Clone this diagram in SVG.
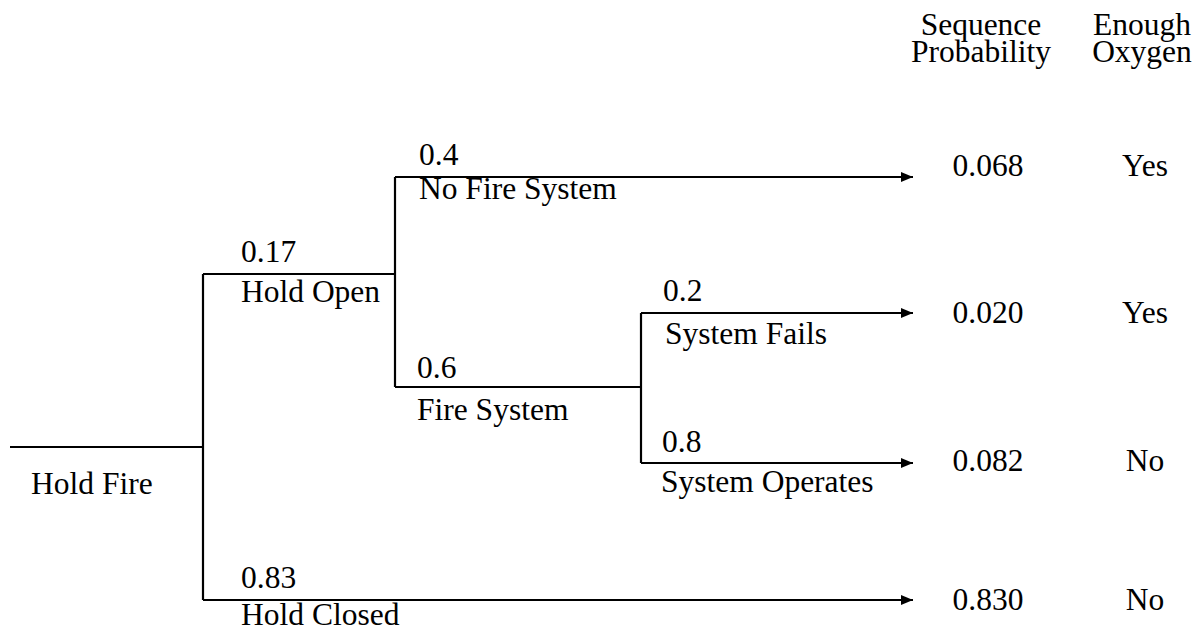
<svg xmlns="http://www.w3.org/2000/svg" width="1198" height="632" viewBox="0 0 1198 632">
<defs>
<style>
text{font-family:"Liberation Serif","Times New Roman",serif;font-size:31.5px;fill:#000}
.c{text-anchor:middle}
.ln{stroke:#000;stroke-width:2.2;fill:none}
</style>
<marker id="ah" viewBox="0 0 12 10" refX="12" refY="5" markerWidth="12" markerHeight="10" markerUnits="userSpaceOnUse" orient="auto">
<path d="M0,0 L12,5 L0,10 z" fill="#000"/>
</marker>
</defs>
<rect width="1198" height="632" fill="#fff"/>
<g id="connectors">
<path class="ln" d="M10,447 H203"/>
<path class="ln" d="M203,274 V600"/>
<path class="ln" d="M203,274 H395"/>
<path class="ln" d="M395,177 V387"/>
<path class="ln" d="M395,177 H913" marker-end="url(#ah)"/>
<path class="ln" d="M395,387 H641"/>
<path class="ln" d="M641,313 V463"/>
<path class="ln" d="M641,313 H913" marker-end="url(#ah)"/>
<path class="ln" d="M641,463 H913" marker-end="url(#ah)"/>
<path class="ln" d="M203,600 H913" marker-end="url(#ah)"/>
</g>
<g id="header">
<text class="c" x="981" y="35">Sequence</text>
<text class="c" x="981" y="62">Probability</text>
<text class="c" x="1142" y="35">Enough</text>
<text class="c" x="1142" y="62">Oxygen</text>
</g>
<g id="hold-fire"><text x="31" y="494">Hold Fire</text></g>
<g id="hold-open"><text x="241" y="262">0.17</text><text x="241" y="302">Hold Open</text></g>
<g id="hold-closed"><text x="241" y="588">0.83</text><text x="241" y="625">Hold Closed</text></g>
<g id="no-fire-system"><text x="419" y="165">0.4</text><text x="419" y="199">No Fire System</text></g>
<g id="fire-system"><text x="417" y="378">0.6</text><text x="417" y="420">Fire System</text></g>
<g id="system-fails"><text x="663" y="301">0.2</text><text x="665" y="344">System Fails</text></g>
<g id="system-operates"><text x="662" y="452">0.8</text><text x="661" y="492">System Operates</text></g>
<g id="outcome-1"><text class="c" x="988" y="176">0.068</text><text class="c" x="1145" y="176">Yes</text></g>
<g id="outcome-2"><text class="c" x="988" y="323">0.020</text><text class="c" x="1145" y="323">Yes</text></g>
<g id="outcome-3"><text class="c" x="988" y="471">0.082</text><text class="c" x="1145" y="471">No</text></g>
<g id="outcome-4"><text class="c" x="988" y="610">0.830</text><text class="c" x="1145" y="610">No</text></g>
</svg>
